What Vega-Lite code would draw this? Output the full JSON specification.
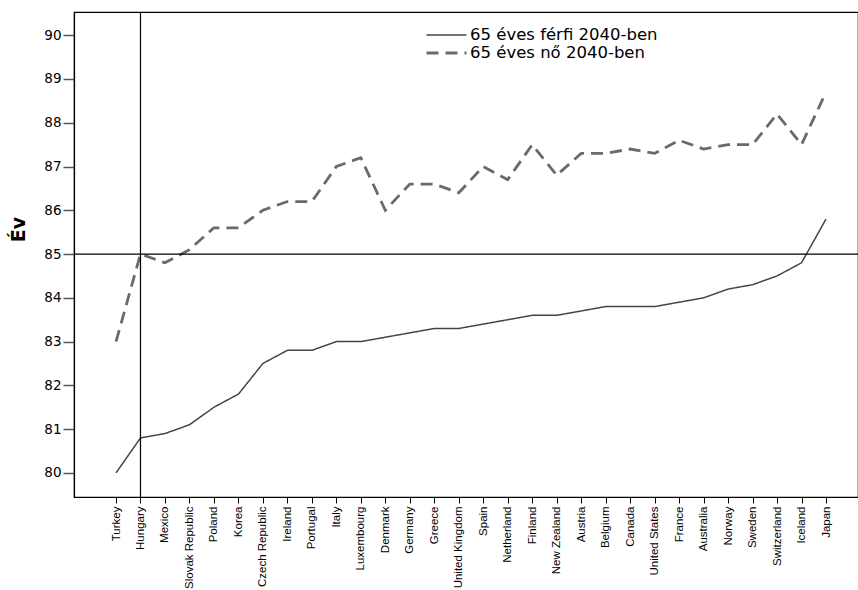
{
  "$schema": "https://vega.github.io/schema/vega-lite/v6.json",
  "width": 784,
  "height": 485,
  "autosize": "none",
  "padding": {"left": 74, "top": 12, "right": 0, "bottom": 93},
  "background": "white",
  "config": {
    "view": {"stroke": "black", "strokeWidth": 1.2},
    "font": "DejaVu Sans"
  },
  "datasets": {
    "life": [
      {"country": "Turkey", "series": "65 éves férfi 2040-ben", "value": 80.0},
      {"country": "Hungary", "series": "65 éves férfi 2040-ben", "value": 80.8},
      {"country": "Mexico", "series": "65 éves férfi 2040-ben", "value": 80.9},
      {"country": "Slovak Republic", "series": "65 éves férfi 2040-ben", "value": 81.1},
      {"country": "Poland", "series": "65 éves férfi 2040-ben", "value": 81.5},
      {"country": "Korea", "series": "65 éves férfi 2040-ben", "value": 81.8},
      {"country": "Czech Republic", "series": "65 éves férfi 2040-ben", "value": 82.5},
      {"country": "Ireland", "series": "65 éves férfi 2040-ben", "value": 82.8},
      {"country": "Portugal", "series": "65 éves férfi 2040-ben", "value": 82.8},
      {"country": "Italy", "series": "65 éves férfi 2040-ben", "value": 83.0},
      {"country": "Luxembourg", "series": "65 éves férfi 2040-ben", "value": 83.0},
      {"country": "Denmark", "series": "65 éves férfi 2040-ben", "value": 83.1},
      {"country": "Germany", "series": "65 éves férfi 2040-ben", "value": 83.2},
      {"country": "Greece", "series": "65 éves férfi 2040-ben", "value": 83.3},
      {"country": "United Kingdom", "series": "65 éves férfi 2040-ben", "value": 83.3},
      {"country": "Spain", "series": "65 éves férfi 2040-ben", "value": 83.4},
      {"country": "Netherland", "series": "65 éves férfi 2040-ben", "value": 83.5},
      {"country": "Finland", "series": "65 éves férfi 2040-ben", "value": 83.6},
      {"country": "New Zealand", "series": "65 éves férfi 2040-ben", "value": 83.6},
      {"country": "Austria", "series": "65 éves férfi 2040-ben", "value": 83.7},
      {"country": "Belgium", "series": "65 éves férfi 2040-ben", "value": 83.8},
      {"country": "Canada", "series": "65 éves férfi 2040-ben", "value": 83.8},
      {"country": "United States", "series": "65 éves férfi 2040-ben", "value": 83.8},
      {"country": "France", "series": "65 éves férfi 2040-ben", "value": 83.9},
      {"country": "Australia", "series": "65 éves férfi 2040-ben", "value": 84.0},
      {"country": "Norway", "series": "65 éves férfi 2040-ben", "value": 84.2},
      {"country": "Sweden", "series": "65 éves férfi 2040-ben", "value": 84.3},
      {"country": "Switzerland", "series": "65 éves férfi 2040-ben", "value": 84.5},
      {"country": "Iceland", "series": "65 éves férfi 2040-ben", "value": 84.8},
      {"country": "Japan", "series": "65 éves férfi 2040-ben", "value": 85.8},
      {"country": "Turkey", "series": "65 éves nő 2040-ben", "value": 83.0},
      {"country": "Hungary", "series": "65 éves nő 2040-ben", "value": 85.0},
      {"country": "Mexico", "series": "65 éves nő 2040-ben", "value": 84.8},
      {"country": "Slovak Republic", "series": "65 éves nő 2040-ben", "value": 85.1},
      {"country": "Poland", "series": "65 éves nő 2040-ben", "value": 85.6},
      {"country": "Korea", "series": "65 éves nő 2040-ben", "value": 85.6},
      {"country": "Czech Republic", "series": "65 éves nő 2040-ben", "value": 86.0},
      {"country": "Ireland", "series": "65 éves nő 2040-ben", "value": 86.2},
      {"country": "Portugal", "series": "65 éves nő 2040-ben", "value": 86.2},
      {"country": "Italy", "series": "65 éves nő 2040-ben", "value": 87.0},
      {"country": "Luxembourg", "series": "65 éves nő 2040-ben", "value": 87.2},
      {"country": "Denmark", "series": "65 éves nő 2040-ben", "value": 86.0},
      {"country": "Germany", "series": "65 éves nő 2040-ben", "value": 86.6},
      {"country": "Greece", "series": "65 éves nő 2040-ben", "value": 86.6},
      {"country": "United Kingdom", "series": "65 éves nő 2040-ben", "value": 86.4},
      {"country": "Spain", "series": "65 éves nő 2040-ben", "value": 87.0},
      {"country": "Netherland", "series": "65 éves nő 2040-ben", "value": 86.7},
      {"country": "Finland", "series": "65 éves nő 2040-ben", "value": 87.5},
      {"country": "New Zealand", "series": "65 éves nő 2040-ben", "value": 86.8},
      {"country": "Austria", "series": "65 éves nő 2040-ben", "value": 87.3},
      {"country": "Belgium", "series": "65 éves nő 2040-ben", "value": 87.3},
      {"country": "Canada", "series": "65 éves nő 2040-ben", "value": 87.4},
      {"country": "United States", "series": "65 éves nő 2040-ben", "value": 87.3},
      {"country": "France", "series": "65 éves nő 2040-ben", "value": 87.6},
      {"country": "Australia", "series": "65 éves nő 2040-ben", "value": 87.4},
      {"country": "Norway", "series": "65 éves nő 2040-ben", "value": 87.5},
      {"country": "Sweden", "series": "65 éves nő 2040-ben", "value": 87.5},
      {"country": "Switzerland", "series": "65 éves nő 2040-ben", "value": 88.2},
      {"country": "Iceland", "series": "65 éves nő 2040-ben", "value": 87.5},
      {"country": "Japan", "series": "65 éves nő 2040-ben", "value": 88.7}
    ]
  },
  "layer": [
    {
      "data": {"name": "life"},
      "mark": {"type": "line"},
      "encoding": {
        "x": {
          "field": "country",
          "type": "nominal",
          "sort": null,
          "scale": {
            "type": "point",
            "padding": 0,
            "domain": ["Turkey","Hungary","Mexico","Slovak Republic","Poland","Korea","Czech Republic","Ireland","Portugal","Italy","Luxembourg","Denmark","Germany","Greece","United Kingdom","Spain","Netherland","Finland","New Zealand","Austria","Belgium","Canada","United States","France","Australia","Norway","Sweden","Switzerland","Iceland","Japan"],
            "range": [42, 752]
          },
          "axis": {
            "title": null,
            "labelAngle": -90,
            "labelAlign": "right",
            "labelBaseline": "middle",
            "labelFont": "Liberation Sans",
            "labelFontSize": 11.5,
            "labelColor": "black",
            "labelPadding": 3,
            "labelOverlap": false,
            "labelBound": false,
            "tickSize": 6,
            "tickColor": "black",
            "domainColor": "black",
            "domainWidth": 1.2,
            "grid": false
          }
        },
        "y": {
          "field": "value",
          "type": "quantitative",
          "scale": {"domain": [79.45, 90.53], "nice": false, "zero": false},
          "axis": {
            "title": "Év",
            "titleFont": "DejaVu Sans",
            "titleFontSize": 19,
            "titleFontWeight": "bold",
            "titleColor": "black",
            "titleAngle": -90,
            "titleX": -56,
            "titleY": 217,
            "titleAlign": "center",
            "titleBaseline": "middle",
            "values": [80,81,82,83,84,85,86,87,88,89,90],
            "labelFont": "DejaVu Sans",
            "labelFontSize": 13.5,
            "labelColor": "black",
            "labelPadding": 2,
            "tickSize": 11,
            "tickColor": "#555",
            "tickWidth": 1.5,
            "domainColor": "black",
            "domainWidth": 1.2,
            "grid": false
          }
        },
        "color": {
          "field": "series",
          "type": "nominal",
          "scale": {"domain": ["65 éves férfi 2040-ben", "65 éves nő 2040-ben"], "range": ["#454545", "#6a6a6a"]},
          "legend": {
            "title": null,
            "orient": "none",
            "legendX": 351,
            "legendY": 14,
            "symbolType": "stroke",
            "symbolSize": 1600,
            "symbolStrokeWidth": 2.4,
            "clipHeight": 18,
            "labelFont": "DejaVu Sans",
            "labelFontSize": 16.5,
            "labelLimit": 400,
            "labelColor": "black",
            "labelOffset": 2,
            "rowPadding": 0
          }
        },
        "strokeDash": {
          "field": "series",
          "type": "nominal",
          "scale": {"domain": ["65 éves férfi 2040-ben", "65 éves nő 2040-ben"], "range": [[1, 0], [12, 7]]},
          "legend": null
        },
        "strokeWidth": {
          "field": "series",
          "type": "nominal",
          "scale": {"domain": ["65 éves férfi 2040-ben", "65 éves nő 2040-ben"], "range": [1.5, 2.8]},
          "legend": null
        }
      }
    },
    {
      "data": {"values": [{"ref": 85}]},
      "mark": {"type": "rule", "color": "black", "strokeWidth": 1.2},
      "encoding": {"y": {"field": "ref", "type": "quantitative"}}
    },
    {
      "data": {"values": [{"ref": "Hungary"}]},
      "mark": {"type": "rule", "color": "black", "strokeWidth": 1.2},
      "encoding": {"x": {"field": "ref", "type": "nominal"}}
    }
  ]
}
